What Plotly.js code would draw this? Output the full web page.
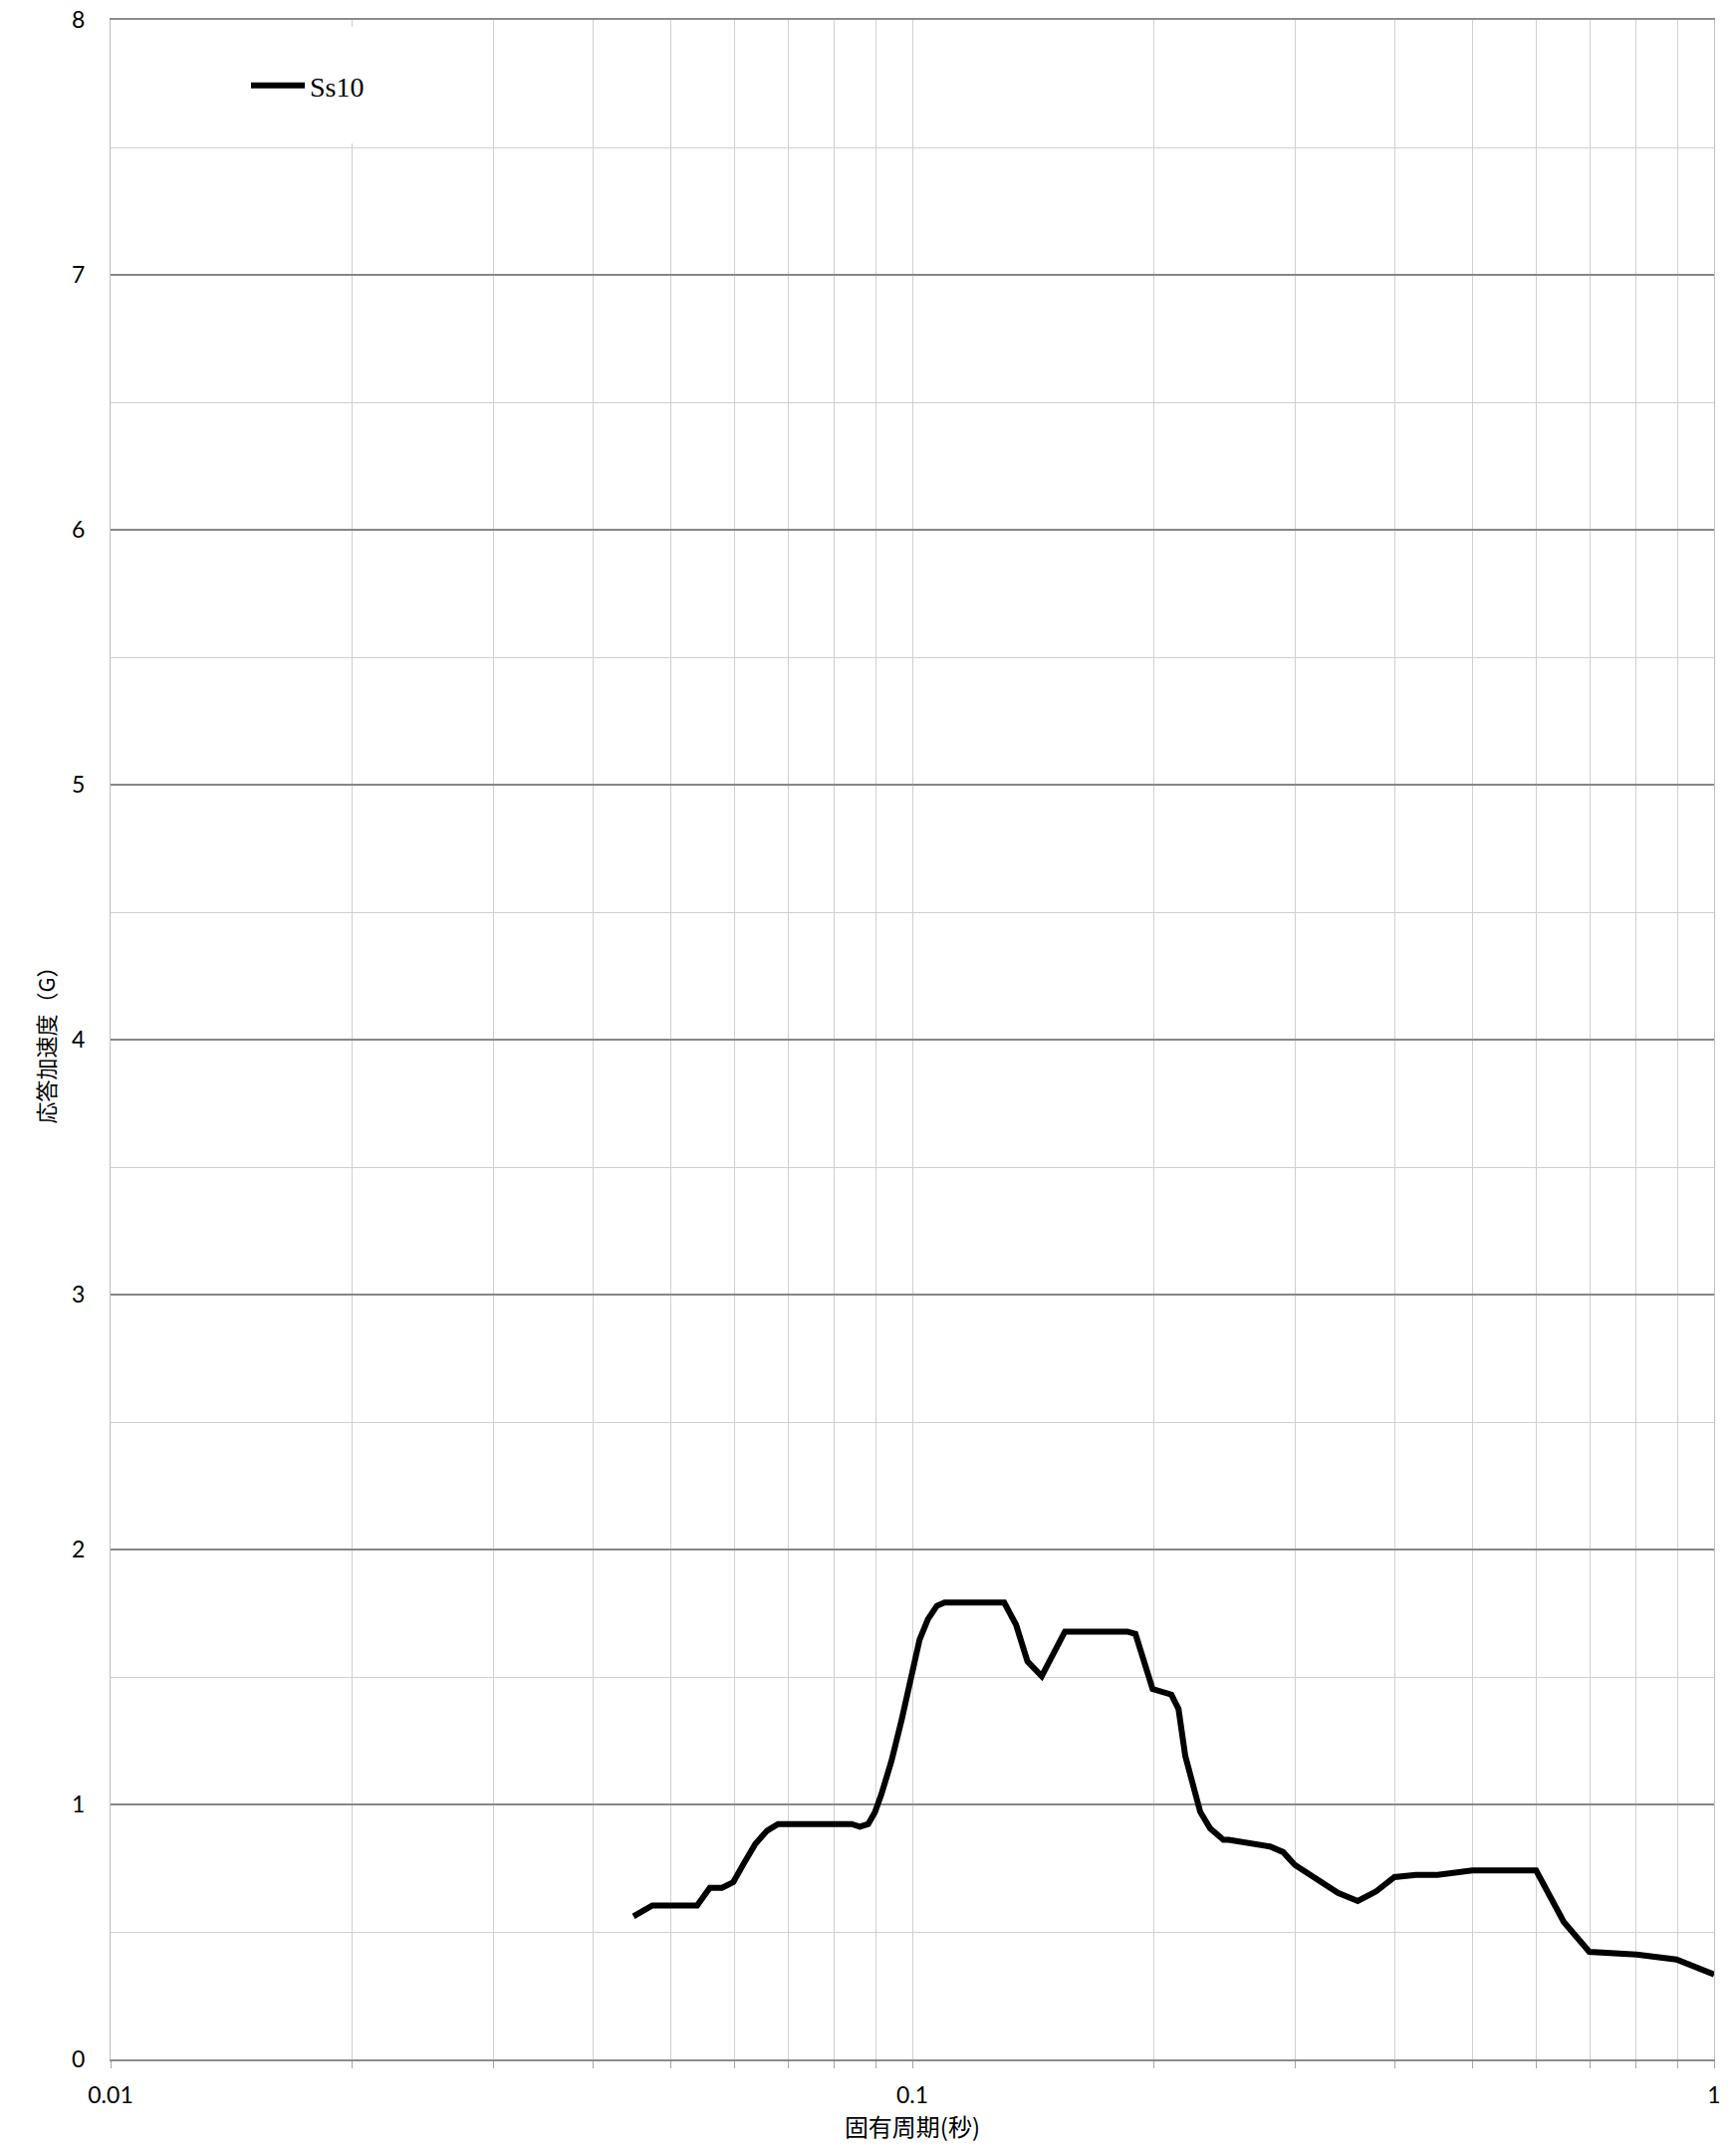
<!DOCTYPE html>
<html>
<head>
<meta charset="utf-8">
<script src="https://cdn.plot.ly/plotly-3.0.1.min.js"></script>
<style>
  html, body { margin: 0; padding: 0; background: #ffffff; }
  #chart { width: 1743px; height: 2157px; }
</style>
</head>
<body>
<div id="chart"></div>
<script>
// Natural period (s)
const period = [0.0449, 0.0474, 0.0539, 0.0559, 0.0579, 0.0598, 0.0616, 0.0637, 0.0659, 0.0680,
  0.0840, 0.0860, 0.0881, 0.0898, 0.0915, 0.0942, 0.0970, 0.0998, 0.1021, 0.1046,
  0.1073, 0.1097, 0.1302, 0.1347, 0.1392, 0.1450, 0.1550, 0.1854, 0.1898, 0.1994,
  0.2104, 0.2148, 0.2190, 0.2286, 0.2352, 0.2443, 0.2481, 0.2793, 0.2901, 0.3000,
  0.3192, 0.3395, 0.3594, 0.3789, 0.3993, 0.4248, 0.4519, 0.4995, 0.5998, 0.6494,
  0.6989, 0.8009, 0.8979, 1.0];
// Response acceleration (G) for Ss10
const accelSs10 = [0.561, 0.604, 0.604, 0.673, 0.673, 0.695, 0.767, 0.845, 0.897, 0.923,
  0.923, 0.913, 0.923, 0.969, 1.040, 1.171, 1.333, 1.503, 1.646, 1.727,
  1.779, 1.792, 1.792, 1.705, 1.561, 1.503, 1.678, 1.678, 1.669, 1.453,
  1.431, 1.374, 1.190, 0.971, 0.906, 0.861, 0.861, 0.835, 0.813, 0.763,
  0.705, 0.653, 0.621, 0.659, 0.715, 0.724, 0.724, 0.741, 0.741, 0.539,
  0.422, 0.411, 0.392, 0.333];

const seriesName = 'Ss10';
const xTickVals = [0.01, 0.02, 0.03, 0.04, 0.05, 0.06, 0.07, 0.08, 0.09,
  0.1, 0.2, 0.3, 0.4, 0.5, 0.6, 0.7, 0.8, 0.9, 1];
const xTickText = ['0.01', '', '', '', '', '', '', '', '',
  '0.1', '', '', '', '', '', '', '', '', '1'];
const xTitle = '固有周期(秒)';
const yTitle = '応答加速度（G）';

const trace = {
  x: period,
  y: accelSs10,
  type: 'scatter',
  mode: 'lines',
  name: seriesName,
  line: { color: '#000000', width: 6 }
};

const layout = {
  width: 1743,
  height: 2157,
  margin: { l: 111, r: 22, t: 20, b: 89 },
  paper_bgcolor: '#ffffff',
  plot_bgcolor: '#ffffff',
  font: { family: 'Lato, "Noto Sans", sans-serif', color: '#000000', size: 23 },
  showlegend: true,
  legend: {
    x: 0.0845, xanchor: 'left',
    y: 0.9678, yanchor: 'middle',
    bgcolor: 'rgba(0,0,0,0)',
    borderwidth: 0,
    itemwidth: 54,
    font: { family: '"Liberation Serif", "DejaVu Serif", serif', size: 28, color: '#000000' }
  },
  shapes: [{
    type: 'rect', xref: 'paper', yref: 'paper',
    x0: 0.001, x1: 0.235, y0: 0.9395, y1: 0.9966,
    fillcolor: '#ffffff', line: { width: 0 }, layer: 'above'
  }],
  xaxis: {
    type: 'log',
    range: [-2, 0],
    tickvals: xTickVals,
    ticktext: xTickText,
    ticks: 'outside',
    ticklen: 7,
    tickwidth: 1,
    tickcolor: '#a6a6a6',
    ticklabelstandoff: 7,
    showgrid: true,
    gridcolor: '#d0d0d0',
    gridwidth: 1,
    showline: true,
    linecolor: '#8c8c8c',
    linewidth: 2,
    mirror: true,
    zeroline: false,
    tickfont: { family: 'Lato, "Noto Sans", sans-serif', size: 23, color: '#000000' },
    title: {
      text: xTitle,
      standoff: 10,
      font: { family: '"Noto Sans CJK JP", sans-serif', size: 24, color: '#000000' }
    }
  },
  yaxis: {
    range: [0, 8],
    dtick: 1,
    tick0: 0,
    ticks: '',
    ticklabelstandoff: 20,
    showgrid: true,
    gridcolor: '#878787',
    gridwidth: 2,
    minor: { dtick: 0.5, showgrid: true, gridcolor: '#d0d0d0', gridwidth: 1, ticks: '' },
    showline: true,
    linecolor: '#bfbfbf',
    linewidth: 1,
    mirror: true,
    zeroline: false,
    tickfont: { family: 'Lato, "Noto Sans", sans-serif', size: 23, color: '#000000' },
    title: {
      text: yTitle,
      standoff: 10,
      font: { family: '"Noto Sans CJK JP", sans-serif', size: 22, color: '#000000' }
    }
  }
};

Plotly.newPlot('chart', [trace], layout, { displayModeBar: false, staticPlot: true });
</script>
</body>
</html>
